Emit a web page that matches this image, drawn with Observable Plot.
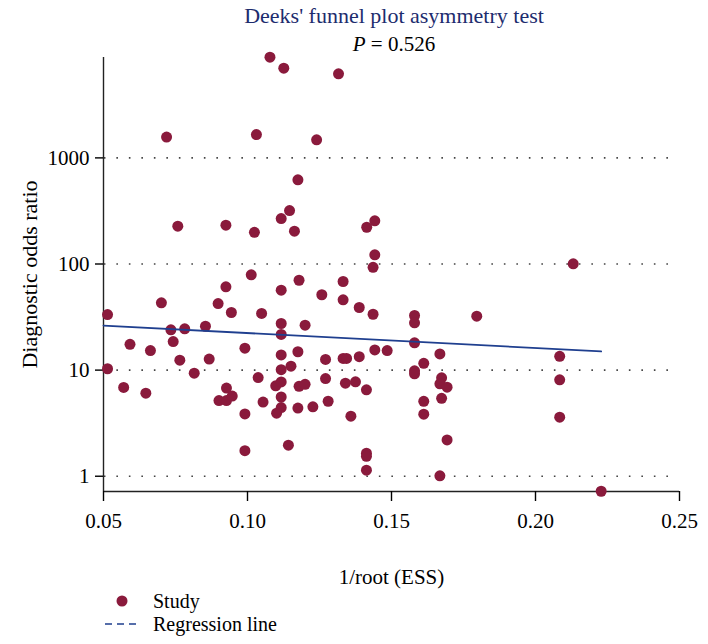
<!DOCTYPE html>
<html>
<head>
<meta charset="utf-8">
<script src="https://cdn.jsdelivr.net/npm/d3@7"></script>
<script src="https://cdn.jsdelivr.net/npm/@observablehq/plot@0.6"></script>
<style>
  html, body { margin: 0; padding: 0; background: #fff; }
  body { font-family: "Liberation Serif", "DejaVu Serif", serif; color: #000; }
  #wrap { position: relative; width: 708px; height: 644px; overflow: hidden; }
  #head { position: relative; width: 708px; height: 50px; }
  #title { position: absolute; left: 80px; width: 628px; top: 3px; text-align: center;
           font-size: 22px; line-height: 26px; color: #1d2c6e; white-space: nowrap; }
  #pval { position: absolute; left: 80px; width: 628px; top: 31px; text-align: center;
          font-size: 21px; line-height: 26px; color: #000; white-space: nowrap; }
  #chart { height: 542px; }
  #legend { position: relative; width: 708px; height: 52px; }
  .lrow { position: absolute; left: 100px; height: 22px; display: flex; align-items: center;
          font-size: 20px; line-height: 22px; white-space: nowrap; }
  .lrow svg { width: 44px; height: 20px; margin-right: 9px; }
</style>
</head>
<body>
<div id="wrap">
  <div id="head">
    <div id="title">Deeks' funnel plot asymmetry test</div>
    <div id="pval"><i>P</i> = 0.526</div>
  </div>
  <div id="chart"></div>
  <div id="legend">
    <div class="lrow" style="top:-2px;"><svg><circle cx="22" cy="10" r="5.5" fill="#8a1a3c"></circle></svg><span>Study</span></div>
    <div class="lrow" style="top:21px;"><svg><line x1="5" y1="10" x2="40" y2="10" stroke="#1f3f8f" stroke-width="1.6" stroke-dasharray="7,5"></line></svg><span>Regression line</span></div>
  </div>
</div>
<script>
// Study values: x = 1/root(ESS), y = diagnostic odds ratio
const essX = [
  0.1078, 0.1126, 0.1316, 0.0719, 0.1031, 0.1240, 0.1175, 0.0758, 0.0925, 0.1024,
  0.1117, 0.1146, 0.1163, 0.1414, 0.1442, 0.1442, 0.1436, 0.1013, 0.0925, 0.1117,
  0.1179, 0.1332, 0.1258, 0.1332, 0.0701, 0.0898, 0.0944, 0.1049, 0.1388, 0.1436,
  0.0514, 0.1117, 0.1200, 0.0854, 0.0782, 0.0734, 0.1117, 0.0592, 0.0742, 0.0663,
  0.0991, 0.1117, 0.1175, 0.0765, 0.0867, 0.0514, 0.1117, 0.1151, 0.1271, 0.1332,
  0.1344, 0.1388, 0.1442, 0.1485, 0.0815, 0.1037, 0.1271, 0.0570, 0.0647, 0.0927,
  0.1098, 0.1117, 0.1179, 0.1200, 0.1340, 0.1375, 0.1413, 0.0901, 0.0927, 0.0947,
  0.1054, 0.1117, 0.1117, 0.1101, 0.1175, 0.1227, 0.1280, 0.0991, 0.1359, 0.1142,
  0.0991, 0.1413, 0.1413, 0.1413, 0.1580, 0.1580, 0.1796, 0.1580, 0.1668, 0.1612,
  0.1580, 0.1580, 0.2084, 0.1674, 0.1668, 0.1693, 0.1674, 0.1612, 0.1612, 0.2084,
  0.2084, 0.1693, 0.1668, 0.2228, 0.2131
];
const dor = [
  8900, 7000, 6200, 1570, 1660, 1480, 622, 227, 232, 199,
  268, 319, 204, 222, 255, 122, 93, 79, 61, 56.6,
  70.3, 68.4, 51.3, 46, 43.1, 42.4, 34.9, 34.2, 38.9, 33.6,
  33.4, 27.5, 26.5, 25.9, 24.5, 24.0, 21.7, 17.5, 18.6, 15.3,
  16.1, 13.9, 14.9, 12.4, 12.7, 10.3, 10.1, 10.9, 12.6, 12.9,
  12.9, 13.4, 15.5, 15.3, 9.35, 8.51, 8.33, 6.86, 6.06, 6.78,
  7.11, 7.73, 7.04, 7.35, 7.53, 7.76, 6.52, 5.17, 5.17, 5.70,
  5.00, 5.58, 4.44, 3.93, 4.39, 4.51, 5.09, 3.86, 3.68, 1.96,
  1.74, 1.65, 1.54, 1.14, 32.7, 27.9, 32.2, 18.1, 14.2, 11.6,
  9.85, 9.23, 13.5, 8.46, 7.43, 6.90, 5.42, 5.08, 3.84, 8.11,
  3.60, 2.20, 1.01, 0.722, 100.4
];
// Regression line end points
const regX = [0.05, 0.2228];
const regY = [26.3, 15.0];
// Axis ticks
const xTicks = [0.05, 0.10, 0.15, 0.20, 0.25];
const yTicks = [1, 10, 100, 1000];
const xDomain = [0.05, 0.25];
const yDomain = [0.718, 8830];

const studies = essX.map((x, i) => ({x, y: dor[i]}));
const reg = regX.map((x, i) => ({x, y: regY[i]}));

const chart = Plot.plot({
  width: 708,
  height: 542,
  marginLeft: 103,
  marginRight: 29,
  marginTop: 7,
  marginBottom: 101,
  style: {fontFamily: "'Liberation Serif', 'DejaVu Serif', serif", fontSize: "21px", color: "#000", background: "#fff"},
  x: {domain: xDomain},
  y: {type: "log", domain: yDomain},
  marks: [
    Plot.ruleY(yTicks, {x1: 0.0503, x2: 0.2462, stroke: "#444", strokeWidth: 1.7, strokeDasharray: "1.6,10.9"}),
    Plot.ruleX([xDomain[0]], {stroke: "#222", strokeWidth: 1.4}),
    Plot.ruleY([yDomain[0]], {stroke: "#222", strokeWidth: 1.4}),
    Plot.axisY({ticks: yTicks, tickFormat: d => String(d), tickSize: 8, tickPadding: 6,
      strokeWidth: 1.4, fontSize: 21, label: null}),
    Plot.axisY({ticks: [], label: "Diagnostic odds ratio", labelAnchor: "center", labelArrow: "none",
      labelOffset: 82, fontSize: 22}),
    Plot.axisX({ticks: xTicks, tickFormat: d3.format(".2f"), tickSize: 10, tickPadding: 12,
      strokeWidth: 1.4, fontSize: 21, label: "1/root (ESS)", labelAnchor: "center", labelArrow: "none", labelOffset: 92}),
    Plot.dot(studies, {x: "x", y: "y", r: 5.5, fill: "#8a1a3c", stroke: "none"}),
    Plot.line(reg, {x: "x", y: "y", stroke: "#1f3f8f", strokeWidth: 1.8})
  ],
  clip: false
});
document.getElementById("chart").appendChild(chart);
</script>
</body>
</html>
